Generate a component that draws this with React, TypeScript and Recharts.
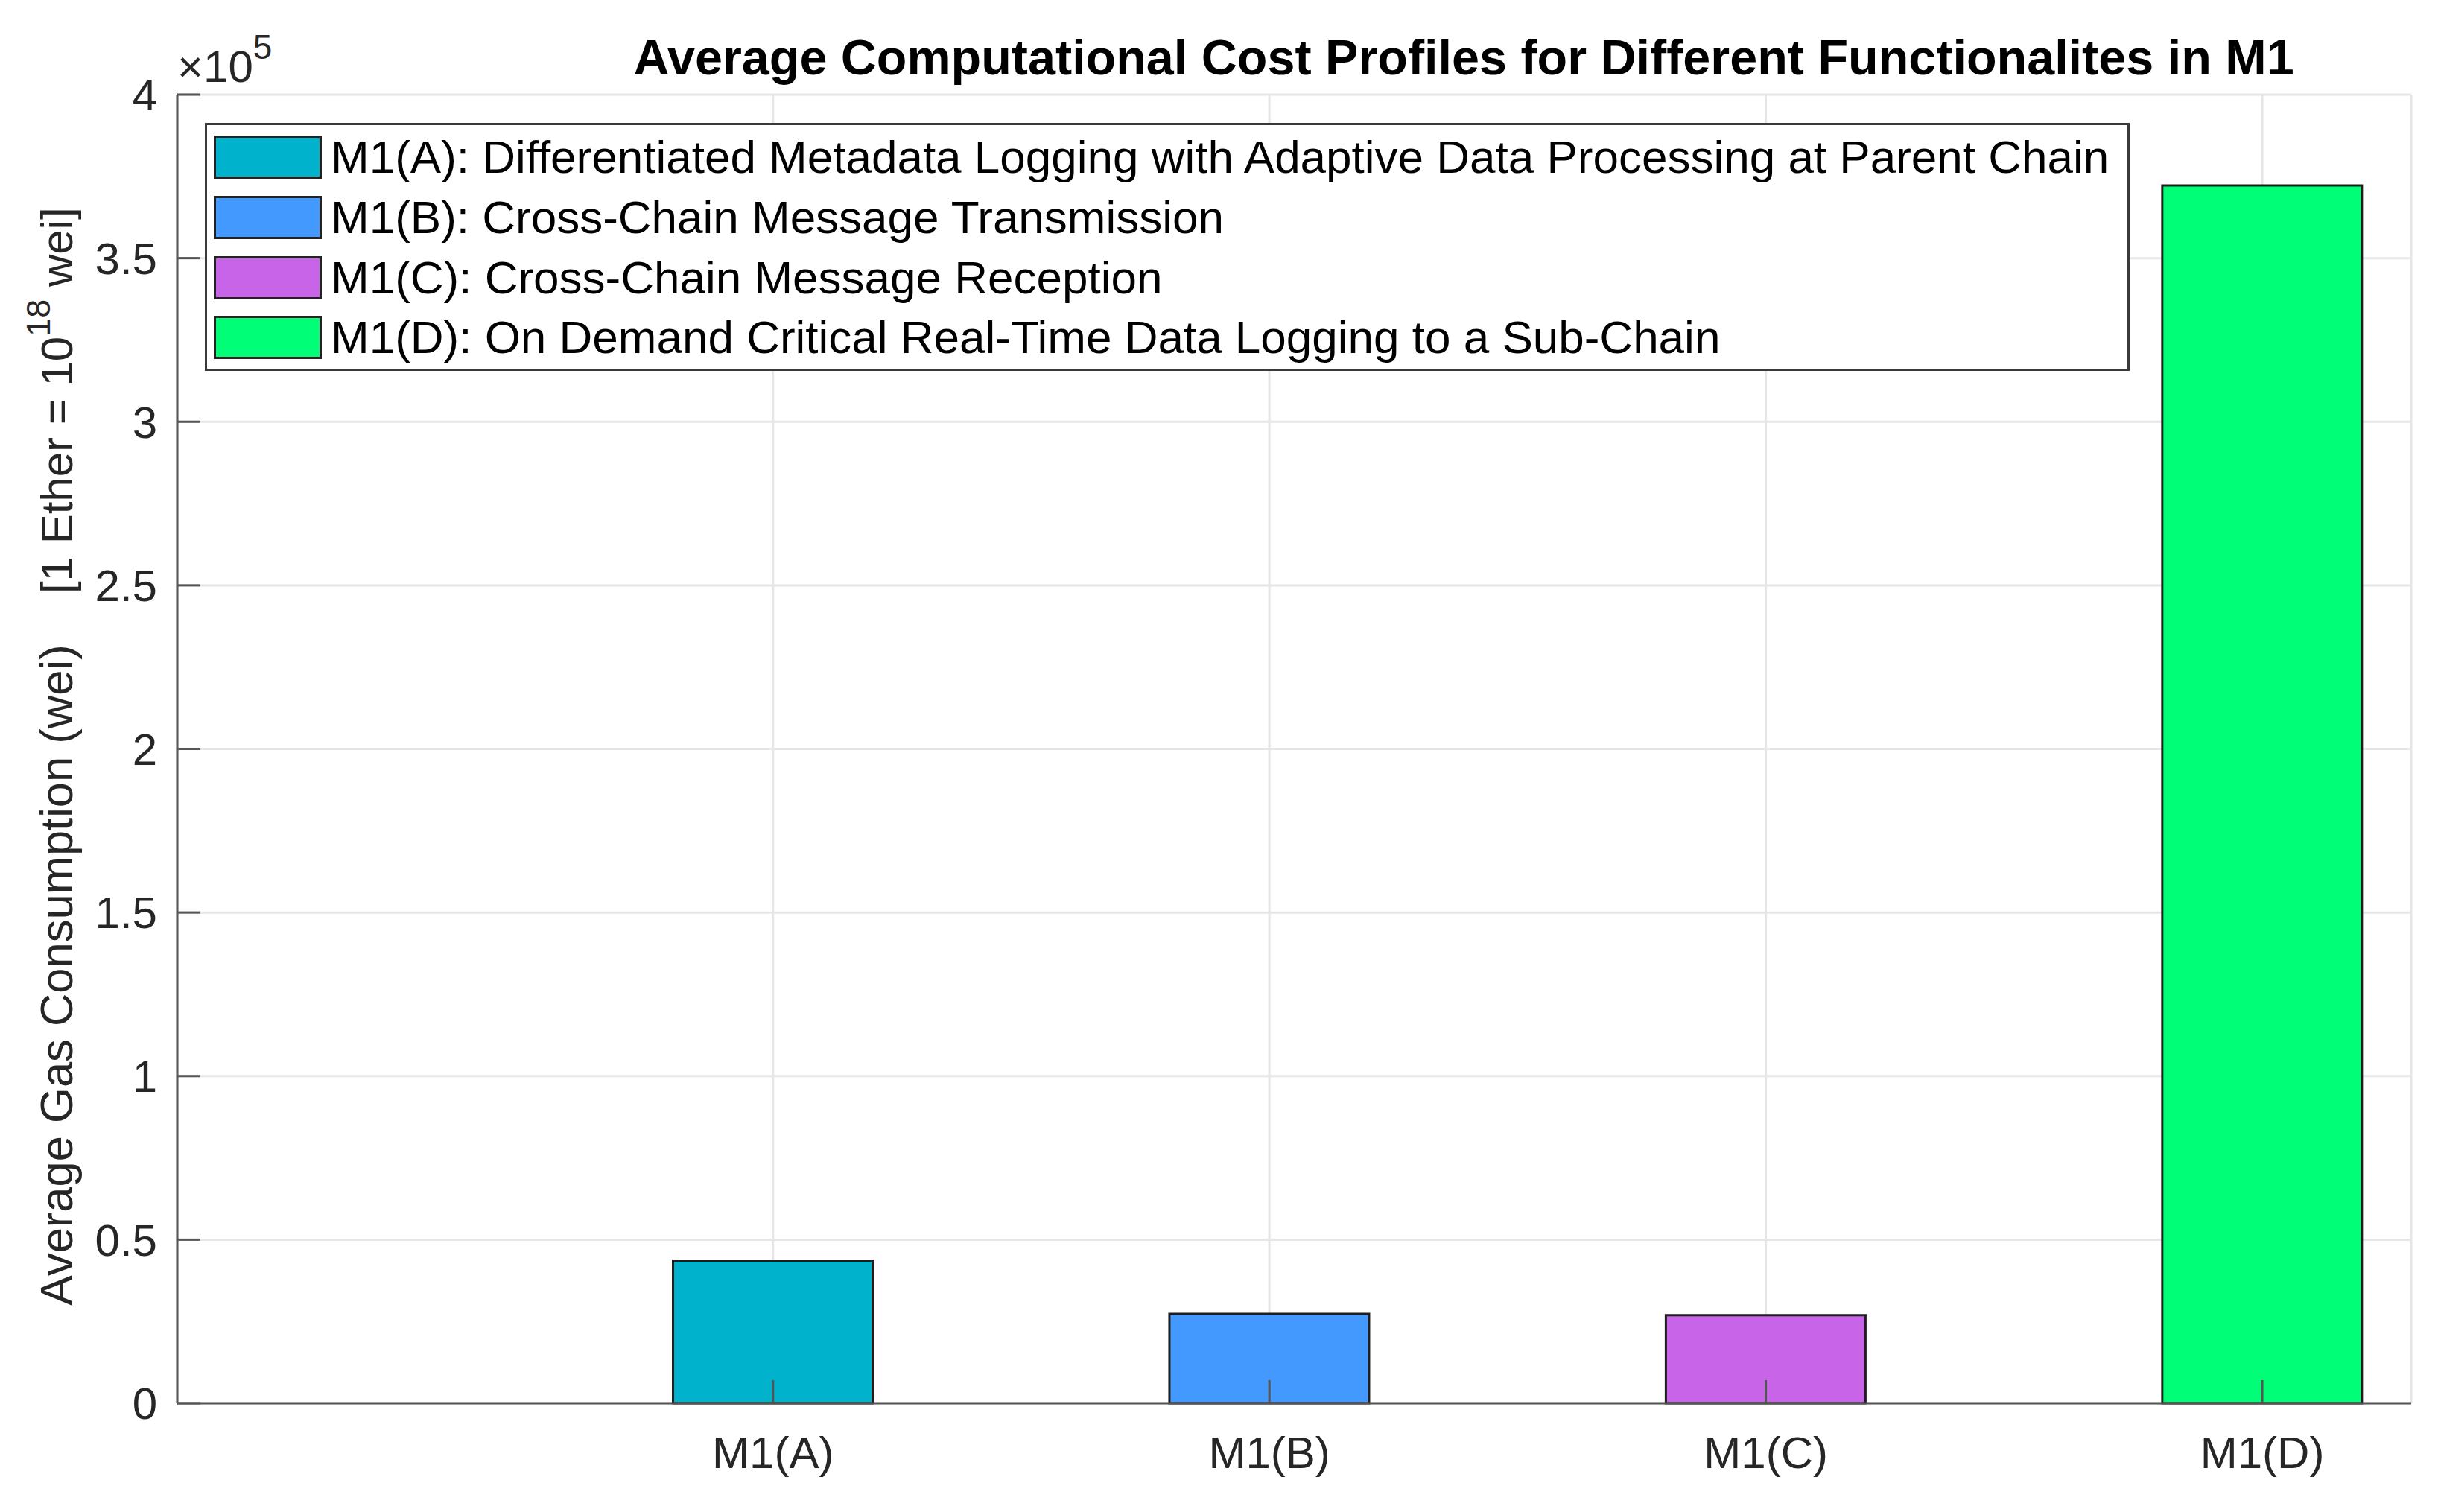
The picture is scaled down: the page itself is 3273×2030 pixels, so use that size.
import React from 'react';
import { BarChart, Bar, XAxis, YAxis, CartesianGrid, Cell, Legend, Customized } from 'recharts';

const categories = ['M1(A)', 'M1(B)', 'M1(C)', 'M1(D)'];
const gasValues = [43600, 27300, 26900, 372200];
const legendLabels = [
  'M1(A): Differentiated Metadata Logging with Adaptive Data Processing at Parent Chain',
  'M1(B): Cross-Chain Message Transmission',
  'M1(C): Cross-Chain Message Reception',
  'M1(D): On Demand Critical Real-Time Data Logging to a Sub-Chain',
];
const barColors = ['#00B2CC', '#4499FF', '#C864E8', '#00FF77'];
const xTicks = [1, 2, 3, 4];
const yTicks = [0, 50000, 100000, 150000, 200000, 250000, 300000, 350000, 400000];

const data = categories.map((name, i) => ({ pos: i + 1, name, gas: gasValues[i] }));

const FONT = '"Liberation Sans", Arial, Helvetica, sans-serif';
const AXIS = '#555555';
const TEXT = '#262626';

function Annotations() {
  return (
    <g fontFamily={FONT}>
      <text x={1965} y={100} textAnchor="middle" fontSize={66.5} fontWeight="bold" fill="#000">
        Average Computational Cost Profiles for Different Functionalites in M1
      </text>
      <text x={238} y={110} fontSize={60} fill={TEXT}>
        {'\u00d710'}
        <tspan dy={-31} fontSize={46}>5</tspan>
      </text>
      <text
        x={97}
        y={1753}
        transform="rotate(-90 97 1753)"
        fontSize={61.5}
        fill={TEXT}
        xmlSpace="preserve"
        style={{ whiteSpace: 'pre' }}
      >
        {'Average Gas Consumption (wei)    '}
        <tspan fontSize={60}>{'[1 Ether = 10'}</tspan>
        <tspan dy={-30} fontSize={45}>18</tspan>
        <tspan dy={30} fontSize={60}>{' wei]'}</tspan>
      </text>
    </g>
  );
}

function LegendBox() {
  return (
    <div
      style={{
        boxSizing: 'border-box',
        width: '100%',
        height: '100%',
        border: '3px solid #3a3a3a',
        background: '#fff',
        paddingTop: 3,
        fontFamily: FONT,
      }}
    >
      {legendLabels.map((label, i) => (
        <div key={label} style={{ display: 'flex', alignItems: 'center', height: 80.7 }}>
          <div
            style={{
              boxSizing: 'border-box',
              width: 145,
              height: 58,
              marginLeft: 9,
              background: barColors[i],
              border: '3px solid #222',
            }}
          />
          <span style={{ marginLeft: 12, fontSize: 62, color: '#000', whiteSpace: 'nowrap', lineHeight: 1 }}>
            {label}
          </span>
        </div>
      ))}
    </div>
  );
}

export default function App() {
  return (
    <div style={{ position: 'absolute', left: 0, top: 0, width: 3273, height: 2030, background: '#fff' }}>
      <BarChart
        width={3273}
        height={2030}
        data={data}
        margin={{ top: 127, right: 36, bottom: 0, left: 0 }}
      >
        <CartesianGrid stroke="#e6e6e6" strokeWidth={3} />
        <XAxis
          dataKey="pos"
          type="number"
          domain={[-0.2, 4.3]}
          ticks={xTicks}
          interval={0}
          tickFormatter={(v: number) => categories[v - 1]}
          height={146}
          tickSize={-31}
          tickMargin={75}
          axisLine={{ stroke: AXIS, strokeWidth: 3 }}
          tickLine={{ stroke: AXIS, strokeWidth: 3 }}
          tick={{ fontSize: 60, fill: TEXT, fontFamily: FONT }}
        />
        <XAxis
          xAxisId="top"
          orientation="top"
          dataKey="pos"
          type="number"
          domain={[-0.2, 4.3]}
          ticks={xTicks}
          interval={0}
          height={0}
          tick={false}
          tickSize={-31}
          axisLine={{ stroke: AXIS, strokeWidth: 3 }}
          tickLine={{ stroke: AXIS, strokeWidth: 3 }}
        />
        <YAxis
          type="number"
          domain={[0, 400000]}
          ticks={yTicks}
          interval={0}
          width={238}
          tickSize={-31}
          tickMargin={58}
          tickFormatter={(v: number) => String(v / 100000)}
          axisLine={{ stroke: AXIS, strokeWidth: 3 }}
          tickLine={{ stroke: AXIS, strokeWidth: 3 }}
          tick={{ fontSize: 60, fill: TEXT, fontFamily: FONT }}
        />
        <Bar dataKey="gas" barSize={268} stroke="#1e1e1e" strokeWidth={3} isAnimationActive={false}>
          {data.map((d, i) => (
            <Cell key={d.name} fill={barColors[i]} />
          ))}
        </Bar>
        <Legend
          layout="vertical"
          align="center"
          verticalAlign="middle"
          wrapperStyle={{ position: 'absolute', left: 275, top: 165, width: 2584, height: 333 }}
          content={() => <LegendBox />}
        />
        <Customized component={Annotations} />
      </BarChart>
    </div>
  );
}
